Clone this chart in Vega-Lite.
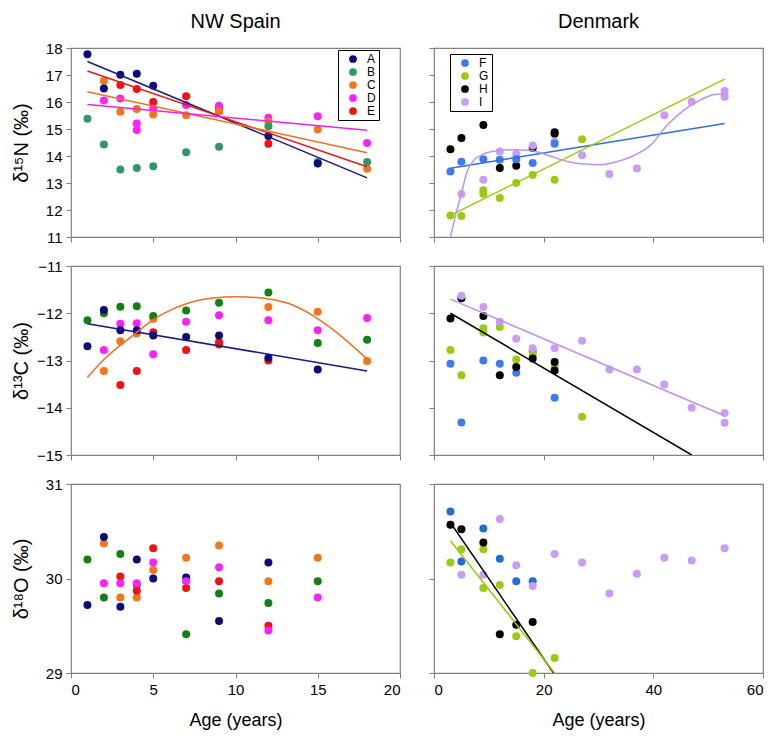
{
"$schema": "https://vega.github.io/schema/vega-lite/v6.json",
"background": "white",
"padding": {"left": 10, "top": 10, "right": 5, "bottom": 5},
"config": {
  "font": "Liberation Sans",
  "view": {"stroke": "#808080", "strokeWidth": 1.2},
  "axis": {"grid": false, "domain": false, "tickColor": "#808080", "tickSize": 5, "tickWidth": 1, "labelFontSize": 15, "labelColor": "#000", "labelPadding": 4, "titleFontSize": 18, "titleFontWeight": "normal", "titleColor": "#000", "format": "d"},
  "legend": {"orient": "none", "title": null, "strokeColor": "#000", "fillColor": "#fff", "padding": 3, "labelFontSize": 12, "symbolType": "circle", "symbolSize": 60, "rowPadding": 1, "labelOffset": 8, "symbolOffset": 6, "symbolStrokeWidth": 0, "labelColor": "#000"},
  "title": {"fontSize": 20, "fontWeight": "normal", "frame": "group", "anchor": "middle", "offset": 9, "color": "#000"}
},
"datasets": {
  "pts": [
    {"p":"a","s":"E","age":3,"v":16.63},{"p":"a","s":"E","age":4,"v":16.48},{"p":"a","s":"E","age":5,"v":16.0},{"p":"a","s":"E","age":7,"v":16.21},{"p":"a","s":"E","age":9,"v":15.76},{"p":"a","s":"E","age":9,"v":15.66},{"p":"a","s":"E","age":12,"v":14.45},
    {"p":"a","s":"D","age":2,"v":16.06},{"p":"a","s":"D","age":3,"v":16.13},{"p":"a","s":"D","age":4,"v":15.2},{"p":"a","s":"D","age":4,"v":14.96},{"p":"a","s":"D","age":5,"v":15.76},{"p":"a","s":"D","age":7,"v":15.89},{"p":"a","s":"D","age":9,"v":15.86},{"p":"a","s":"D","age":12,"v":15.42},{"p":"a","s":"D","age":15,"v":15.47},{"p":"a","s":"D","age":18,"v":14.48},
    {"p":"a","s":"C","age":2,"v":16.78},{"p":"a","s":"C","age":3,"v":15.64},{"p":"a","s":"C","age":4,"v":15.74},{"p":"a","s":"C","age":5,"v":15.54},{"p":"a","s":"C","age":7,"v":15.51},{"p":"a","s":"C","age":9,"v":15.65},{"p":"a","s":"C","age":12,"v":15.28},{"p":"a","s":"C","age":15,"v":14.98},{"p":"a","s":"C","age":18,"v":13.53},
    {"p":"a","s":"B","age":1,"v":15.38},{"p":"a","s":"B","age":2,"v":14.43},{"p":"a","s":"B","age":3,"v":13.5},{"p":"a","s":"B","age":4,"v":13.56},{"p":"a","s":"B","age":5,"v":13.62},{"p":"a","s":"B","age":7,"v":14.14},{"p":"a","s":"B","age":9,"v":14.34},{"p":"a","s":"B","age":12,"v":15.1},{"p":"a","s":"B","age":15,"v":13.78},{"p":"a","s":"B","age":18,"v":13.78},
    {"p":"a","s":"A","age":1,"v":17.77},{"p":"a","s":"A","age":2,"v":16.5},{"p":"a","s":"A","age":3,"v":17.01},{"p":"a","s":"A","age":4,"v":17.05},{"p":"a","s":"A","age":5,"v":16.6},{"p":"a","s":"A","age":12,"v":14.74},{"p":"a","s":"A","age":15,"v":13.72},

    {"p":"b","s":"H","age":3,"v":14.25},{"p":"b","s":"H","age":5,"v":14.67},{"p":"b","s":"H","age":9,"v":15.15},{"p":"b","s":"H","age":12,"v":13.56},{"p":"b","s":"H","age":15,"v":13.64},{"p":"b","s":"H","age":18,"v":14.3},{"p":"b","s":"H","age":22,"v":14.88},{"p":"b","s":"H","age":22,"v":14.82},
    {"p":"b","s":"G","age":3,"v":11.8},{"p":"b","s":"G","age":5,"v":11.78},{"p":"b","s":"G","age":9,"v":12.73},{"p":"b","s":"G","age":9,"v":12.6},{"p":"b","s":"G","age":12,"v":12.44},{"p":"b","s":"G","age":15,"v":13.0},{"p":"b","s":"G","age":18,"v":13.3},{"p":"b","s":"G","age":22,"v":13.12},{"p":"b","s":"G","age":27,"v":14.62},
    {"p":"b","s":"I","age":5,"v":12.59},{"p":"b","s":"I","age":9,"v":13.12},{"p":"b","s":"I","age":12,"v":14.17},{"p":"b","s":"I","age":15,"v":14.07},{"p":"b","s":"I","age":18,"v":14.39},{"p":"b","s":"I","age":22,"v":14.54},{"p":"b","s":"I","age":27,"v":14.03},{"p":"b","s":"I","age":32,"v":13.33},{"p":"b","s":"I","age":37,"v":13.54},{"p":"b","s":"I","age":42,"v":15.51},{"p":"b","s":"I","age":47,"v":16.01},{"p":"b","s":"I","age":53,"v":16.41},{"p":"b","s":"I","age":53,"v":16.19},
    {"p":"b","s":"F","age":3,"v":13.43},{"p":"b","s":"F","age":5,"v":13.79},{"p":"b","s":"F","age":9,"v":13.88},{"p":"b","s":"F","age":12,"v":13.86},{"p":"b","s":"F","age":15,"v":13.88},{"p":"b","s":"F","age":18,"v":13.74},{"p":"b","s":"F","age":22,"v":14.45},

    {"p":"c","s":"E","age":3,"v":-13.52},{"p":"c","s":"E","age":4,"v":-13.22},{"p":"c","s":"E","age":5,"v":-12.4},{"p":"c","s":"E","age":7,"v":-12.78},{"p":"c","s":"E","age":9,"v":-12.61},{"p":"c","s":"E","age":9,"v":-12.66},{"p":"c","s":"E","age":12,"v":-13.0},
    {"p":"c","s":"D","age":2,"v":-12.78},{"p":"c","s":"D","age":3,"v":-12.22},{"p":"c","s":"D","age":4,"v":-12.21},{"p":"c","s":"D","age":5,"v":-12.87},{"p":"c","s":"D","age":7,"v":-12.18},{"p":"c","s":"D","age":9,"v":-12.04},{"p":"c","s":"D","age":12,"v":-12.15},{"p":"c","s":"D","age":15,"v":-12.36},{"p":"c","s":"D","age":18,"v":-12.1},
    {"p":"c","s":"C","age":2,"v":-13.22},{"p":"c","s":"C","age":3,"v":-12.59},{"p":"c","s":"C","age":4,"v":-12.43},{"p":"c","s":"C","age":5,"v":-12.12},{"p":"c","s":"C","age":12,"v":-11.87},{"p":"c","s":"C","age":15,"v":-11.97},{"p":"c","s":"C","age":18,"v":-13.01},
    {"p":"c","s":"B","age":1,"v":-12.15},{"p":"c","s":"B","age":2,"v":-12.0},{"p":"c","s":"B","age":3,"v":-11.86},{"p":"c","s":"B","age":4,"v":-11.85},{"p":"c","s":"B","age":5,"v":-12.06},{"p":"c","s":"B","age":7,"v":-11.94},{"p":"c","s":"B","age":9,"v":-11.78},{"p":"c","s":"B","age":12,"v":-11.56},{"p":"c","s":"B","age":15,"v":-12.63},{"p":"c","s":"B","age":18,"v":-12.56},
    {"p":"c","s":"A","age":1,"v":-12.7},{"p":"c","s":"A","age":2,"v":-11.93},{"p":"c","s":"A","age":3,"v":-12.36},{"p":"c","s":"A","age":4,"v":-12.36},{"p":"c","s":"A","age":5,"v":-12.47},{"p":"c","s":"A","age":7,"v":-12.5},{"p":"c","s":"A","age":9,"v":-12.47},{"p":"c","s":"A","age":12,"v":-12.94},{"p":"c","s":"A","age":15,"v":-13.19},

    {"p":"d","s":"F","age":3,"v":-13.07},{"p":"d","s":"F","age":5,"v":-14.31},{"p":"d","s":"F","age":9,"v":-13.0},{"p":"d","s":"F","age":12,"v":-13.07},{"p":"d","s":"F","age":15,"v":-13.26},{"p":"d","s":"F","age":18,"v":-12.81},{"p":"d","s":"F","age":22,"v":-13.79},
    {"p":"d","s":"G","age":3,"v":-12.78},{"p":"d","s":"G","age":5,"v":-13.31},{"p":"d","s":"G","age":9,"v":-12.32},{"p":"d","s":"G","age":9,"v":-12.41},{"p":"d","s":"G","age":12,"v":-12.29},{"p":"d","s":"G","age":15,"v":-12.98},{"p":"d","s":"G","age":18,"v":-12.88},{"p":"d","s":"G","age":22,"v":-13.14},{"p":"d","s":"G","age":27,"v":-14.19},
    {"p":"d","s":"H","age":3,"v":-12.11},{"p":"d","s":"H","age":5,"v":-11.68},{"p":"d","s":"H","age":9,"v":-12.06},{"p":"d","s":"H","age":12,"v":-13.31},{"p":"d","s":"H","age":15,"v":-13.14},{"p":"d","s":"H","age":18,"v":-12.96},{"p":"d","s":"H","age":22,"v":-13.03},{"p":"d","s":"H","age":22,"v":-13.21},
    {"p":"d","s":"I","age":5,"v":-11.63},{"p":"d","s":"I","age":9,"v":-11.87},{"p":"d","s":"I","age":12,"v":-12.18},{"p":"d","s":"I","age":15,"v":-12.54},{"p":"d","s":"I","age":18,"v":-12.74},{"p":"d","s":"I","age":22,"v":-12.74},{"p":"d","s":"I","age":27,"v":-12.58},{"p":"d","s":"I","age":32,"v":-13.19},{"p":"d","s":"I","age":37,"v":-13.19},{"p":"d","s":"I","age":42,"v":-13.51},{"p":"d","s":"I","age":47,"v":-14.0},{"p":"d","s":"I","age":53,"v":-14.11},{"p":"d","s":"I","age":53,"v":-14.32},

    {"p":"e","s":"B","age":1,"v":30.2},{"p":"e","s":"B","age":2,"v":29.8},{"p":"e","s":"B","age":3,"v":30.26},{"p":"e","s":"B","age":4,"v":29.93},{"p":"e","s":"B","age":7,"v":29.41},{"p":"e","s":"B","age":9,"v":29.84},{"p":"e","s":"B","age":12,"v":29.74},{"p":"e","s":"B","age":15,"v":29.97},
    {"p":"e","s":"C","age":2,"v":30.37},{"p":"e","s":"C","age":3,"v":29.8},{"p":"e","s":"C","age":4,"v":29.8},{"p":"e","s":"C","age":5,"v":30.09},{"p":"e","s":"C","age":7,"v":30.22},{"p":"e","s":"C","age":9,"v":30.35},{"p":"e","s":"C","age":12,"v":29.97},{"p":"e","s":"C","age":15,"v":30.22},
    {"p":"e","s":"A","age":1,"v":29.72},{"p":"e","s":"A","age":2,"v":30.44},{"p":"e","s":"A","age":3,"v":29.7},{"p":"e","s":"A","age":4,"v":30.2},{"p":"e","s":"A","age":5,"v":30.0},{"p":"e","s":"A","age":7,"v":30.01},{"p":"e","s":"A","age":9,"v":29.55},{"p":"e","s":"A","age":12,"v":30.17},
    {"p":"e","s":"E","age":3,"v":30.02},{"p":"e","s":"E","age":4,"v":29.87},{"p":"e","s":"E","age":5,"v":30.32},{"p":"e","s":"E","age":7,"v":29.9},{"p":"e","s":"E","age":9,"v":29.97},{"p":"e","s":"E","age":12,"v":29.5},
    {"p":"e","s":"D","age":2,"v":29.95},{"p":"e","s":"D","age":3,"v":29.95},{"p":"e","s":"D","age":4,"v":29.95},{"p":"e","s":"D","age":5,"v":30.17},{"p":"e","s":"D","age":7,"v":29.97},{"p":"e","s":"D","age":9,"v":30.12},{"p":"e","s":"D","age":12,"v":29.45},{"p":"e","s":"D","age":15,"v":29.8},

    {"p":"f","s":"F","age":3,"v":30.71},{"p":"f","s":"F","age":5,"v":30.18},{"p":"f","s":"F","age":9,"v":30.53},{"p":"f","s":"F","age":12,"v":30.21},{"p":"f","s":"F","age":15,"v":29.97},{"p":"f","s":"F","age":18,"v":29.97},
    {"p":"f","s":"G","age":3,"v":30.17},{"p":"f","s":"G","age":5,"v":30.31},{"p":"f","s":"G","age":9,"v":30.31},{"p":"f","s":"G","age":9,"v":29.9},{"p":"f","s":"G","age":12,"v":29.93},{"p":"f","s":"G","age":15,"v":29.39},{"p":"f","s":"G","age":18,"v":29.0},{"p":"f","s":"G","age":22,"v":29.16},
    {"p":"f","s":"H","age":3,"v":30.57},{"p":"f","s":"H","age":5,"v":30.52},{"p":"f","s":"H","age":9,"v":30.38},{"p":"f","s":"H","age":12,"v":29.41},{"p":"f","s":"H","age":15,"v":29.51},{"p":"f","s":"H","age":18,"v":29.54},
    {"p":"f","s":"I","age":5,"v":30.04},{"p":"f","s":"I","age":9,"v":30.04},{"p":"f","s":"I","age":12,"v":30.63},{"p":"f","s":"I","age":15,"v":30.14},{"p":"f","s":"I","age":18,"v":29.92},{"p":"f","s":"I","age":22,"v":30.26},{"p":"f","s":"I","age":27,"v":30.17},{"p":"f","s":"I","age":32,"v":29.84},{"p":"f","s":"I","age":37,"v":30.05},{"p":"f","s":"I","age":42,"v":30.22},{"p":"f","s":"I","age":47,"v":30.19},{"p":"f","s":"I","age":53,"v":30.32}
  ],
  "fits": [
    {"p":"a","s":"A","age":1,"v":17.5},{"p":"a","s":"A","age":18,"v":13.19},
    {"p":"a","s":"E","age":1,"v":17.15},{"p":"a","s":"E","age":18,"v":13.6},
    {"p":"a","s":"C","age":1,"v":16.38},{"p":"a","s":"C","age":18,"v":14.12},
    {"p":"a","s":"D","age":1,"v":15.91},{"p":"a","s":"D","age":18,"v":14.95},
    {"p":"b","s":"F","age":3,"v":13.55},{"p":"b","s":"F","age":53,"v":15.2},
    {"p":"b","s":"G","age":3,"v":11.8},{"p":"b","s":"G","age":53,"v":16.85},
    {"p":"b","s":"I","age":3,"v":11.0},{"p":"b","s":"I","age":3.65,"v":11.57},{"p":"b","s":"I","age":4.87,"v":12.5},{"p":"b","s":"I","age":6.08,"v":13.45},{"p":"b","s":"I","age":7.3,"v":13.84},{"p":"b","s":"I","age":9.1,"v":14.08},{"p":"b","s":"I","age":11.5,"v":14.19},{"p":"b","s":"I","age":14.6,"v":14.23},{"p":"b","s":"I","age":17.6,"v":14.2},{"p":"b","s":"I","age":21.3,"v":13.99},{"p":"b","s":"I","age":24.3,"v":13.8},{"p":"b","s":"I","age":27.4,"v":13.7},{"p":"b","s":"I","age":30.4,"v":13.68},{"p":"b","s":"I","age":33.5,"v":13.8},{"p":"b","s":"I","age":36.5,"v":14.02},{"p":"b","s":"I","age":39.6,"v":14.42},{"p":"b","s":"I","age":42.6,"v":15.16},{"p":"b","s":"I","age":45.7,"v":15.72},{"p":"b","s":"I","age":48.7,"v":16.09},{"p":"b","s":"I","age":51.1,"v":16.28},{"p":"b","s":"I","age":53,"v":16.3},
    {"p":"c","s":"A","age":1,"v":-12.22},{"p":"c","s":"A","age":18,"v":-13.22},
    {"p":"c","s":"C","age":1,"v":-13.36},{"p":"c","s":"C","age":2,"v":-12.98},{"p":"c","s":"C","age":3.95,"v":-12.42},{"p":"c","s":"C","age":5.07,"v":-12.12},{"p":"c","s":"C","age":6.08,"v":-11.93},{"p":"c","s":"C","age":7.1,"v":-11.79},{"p":"c","s":"C","age":8.5,"v":-11.68},{"p":"c","s":"C","age":10.1,"v":-11.65},{"p":"c","s":"C","age":11.75,"v":-11.68},{"p":"c","s":"C","age":13.2,"v":-11.79},{"p":"c","s":"C","age":14.8,"v":-12.07},{"p":"c","s":"C","age":16.2,"v":-12.42},{"p":"c","s":"C","age":18,"v":-12.97},
    {"p":"d","s":"I","age":3,"v":-11.7},{"p":"d","s":"I","age":53,"v":-14.17},
    {"p":"d","s":"H","age":3,"v":-12.0},{"p":"d","s":"H","age":47,"v":-15.0},
    {"p":"f","s":"H","age":3,"v":30.59},{"p":"f","s":"H","age":21.8,"v":29.0},
    {"p":"f","s":"G","age":3,"v":30.4},{"p":"f","s":"G","age":22,"v":29.0}
  ]
},
"spacing": 25,
"resolve": {"scale": {"color": "independent", "stroke": "independent", "x": "independent", "y": "independent"}, "legend": {"color": "independent", "stroke": "independent"}},
"hconcat": [
 {
  "spacing": 29,
  "bounds": "flush",
  "resolve": {"scale": {"color": "independent", "stroke": "independent", "x": "independent", "y": "independent"}, "legend": {"color": "independent", "stroke": "independent"}},
  "vconcat": [
   {
    "width": 329, "height": 189,
    "title": {"text": "NW Spain"},
    "encoding": {
      "x": {"field": "age", "type": "quantitative", "scale": {"domain": [0, 20]}, "axis": {"values": [0,5,10,15,20], "labels": false, "title": null}},
      "y": {"field": "v", "type": "quantitative", "scale": {"domain": [11, 18]}, "axis": {"values": [11,12,13,14,15,16,17,18], "title": "δ¹⁵N (‰)", "titleFontSize": 20, "titleX": -40}}
    },
    "layer": [
      {"data": {"name": "pts"}, "transform": [{"filter": "datum.p == 'a'"}], "mark": {"type": "circle", "size": 64, "opacity": 1},
       "encoding": {"color": {"field": "s", "type": "nominal", "scale": {"domain": ["A","B","C","D","E"], "range": ["#0b0b7d","#2f9966","#f5761a","#ff1fff","#f51010"]}, "legend": {"legendX": 267, "legendY": 2}}}},
      {"data": {"name": "fits"}, "transform": [{"filter": "datum.p == 'a'"}], "mark": {"type": "line", "strokeWidth": 1.5, "clip": true},
       "encoding": {"stroke": {"field": "s", "type": "nominal", "scale": {"domain": ["A","C","D","E"], "range": ["#1a1a80","#f07020","#ee22ee","#e81818"]}, "legend": null}}},
      {"data": {"values": [{}]}, "mark": {"type": "text", "fontSize": 26, "align": "center", "baseline": "middle", "color": "#000"},
       "encoding": {"x": {"datum": 19.2, "type": "quantitative"}, "y": {"datum": 11.75, "type": "quantitative"}, "text": {"value": "a"}}}
    ]
   },
   {
    "width": 329, "height": 189,
    "encoding": {
      "x": {"field": "age", "type": "quantitative", "scale": {"domain": [0, 20]}, "axis": {"values": [0,5,10,15,20], "labels": false, "title": null}},
      "y": {"field": "v", "type": "quantitative", "scale": {"domain": [-15, -11]}, "axis": {"values": [-15,-14,-13,-12,-11], "title": "δ¹³C (‰)", "titleFontSize": 20, "titleX": -40}}
    },
    "layer": [
      {"data": {"name": "pts"}, "transform": [{"filter": "datum.p == 'c'"}], "mark": {"type": "circle", "size": 64, "opacity": 1},
       "encoding": {"color": {"field": "s", "type": "nominal", "scale": {"domain": ["A","B","C","D","E"], "range": ["#0b0b7d","#138013","#f5761a","#ff1fff","#f51010"]}, "legend": null}}},
      {"data": {"name": "fits"}, "transform": [{"filter": "datum.p == 'c'"}], "mark": {"type": "line", "strokeWidth": 1.5, "clip": true, "interpolate": "monotone"},
       "encoding": {"stroke": {"field": "s", "type": "nominal", "scale": {"domain": ["A","C"], "range": ["#1a1a80","#f07020"]}, "legend": null}}},
      {"data": {"values": [{}]}, "mark": {"type": "text", "fontSize": 26, "align": "center", "baseline": "middle", "color": "#000"},
       "encoding": {"x": {"datum": 18.9, "type": "quantitative"}, "y": {"datum": -14.5, "type": "quantitative"}, "text": {"value": "c"}}}
    ]
   },
   {
    "width": 329, "height": 189,
    "encoding": {
      "x": {"field": "age", "type": "quantitative", "scale": {"domain": [0, 20]}, "axis": {"values": [0,5,10,15,20], "title": "Age (years)", "titlePadding": 14}},
      "y": {"field": "v", "type": "quantitative", "scale": {"domain": [29, 31]}, "axis": {"values": [29,30,31], "title": "δ¹⁸O (‰)", "titleFontSize": 20, "titleX": -40}}
    },
    "layer": [
      {"data": {"name": "pts"}, "transform": [{"filter": "datum.p == 'e'"}], "mark": {"type": "circle", "size": 64, "opacity": 1},
       "encoding": {"color": {"field": "s", "type": "nominal", "scale": {"domain": ["A","B","C","D","E"], "range": ["#0b0b7d","#138013","#f5761a","#ff1fff","#f51010"]}, "legend": null}}},
      {"data": {"values": [{}]}, "mark": {"type": "text", "fontSize": 26, "align": "center", "baseline": "middle", "color": "#000"},
       "encoding": {"x": {"datum": 18.9, "type": "quantitative"}, "y": {"datum": 29.22, "type": "quantitative"}, "text": {"value": "e"}}}
    ]
   }
  ]
 },
 {
  "spacing": 29,
  "bounds": "flush",
  "resolve": {"scale": {"color": "independent", "stroke": "independent", "x": "independent", "y": "independent"}, "legend": {"color": "independent", "stroke": "independent"}},
  "vconcat": [
   {
    "width": 329, "height": 189,
    "title": {"text": "Denmark", "offset": 16},
    "encoding": {
      "x": {"field": "age", "type": "quantitative", "scale": {"domain": [0, 60]}, "axis": {"values": [0,20,40,60], "labels": false, "title": null}},
      "y": {"field": "v", "type": "quantitative", "scale": {"domain": [11, 18]}, "axis": {"values": [11,12,13,14,15,16,17,18], "labels": false, "title": null}}
    },
    "layer": [
      {"data": {"name": "pts"}, "transform": [{"filter": "datum.p == 'b'"}], "mark": {"type": "circle", "size": 64, "opacity": 1},
       "encoding": {"color": {"field": "s", "type": "nominal", "scale": {"domain": ["F","G","H","I"], "range": ["#3c7cf2","#99cc11","#000000","#c99cf5"]}, "legend": {"legendX": 16, "legendY": 6}}}},
      {"data": {"name": "fits"}, "transform": [{"filter": "datum.p == 'b'"}], "mark": {"type": "line", "strokeWidth": 1.5, "clip": true, "interpolate": "monotone"},
       "encoding": {"stroke": {"field": "s", "type": "nominal", "scale": {"domain": ["F","G","I"], "range": ["#2f6ee0","#99cc00","#c090f0"]}, "legend": null}}},
      {"data": {"values": [{}]}, "mark": {"type": "text", "fontSize": 26, "align": "center", "baseline": "middle", "color": "#000"},
       "encoding": {"x": {"datum": 55.6, "type": "quantitative"}, "y": {"datum": 11.8, "type": "quantitative"}, "text": {"value": "b"}}}
    ]
   },
   {
    "width": 329, "height": 189,
    "encoding": {
      "x": {"field": "age", "type": "quantitative", "scale": {"domain": [0, 60]}, "axis": {"values": [0,20,40,60], "labels": false, "title": null}},
      "y": {"field": "v", "type": "quantitative", "scale": {"domain": [-15, -11]}, "axis": {"values": [-15,-14,-13,-12,-11], "labels": false, "title": null}}
    },
    "layer": [
      {"data": {"name": "pts"}, "transform": [{"filter": "datum.p == 'd'"}], "mark": {"type": "circle", "size": 64, "opacity": 1},
       "encoding": {"color": {"field": "s", "type": "nominal", "scale": {"domain": ["F","G","H","I"], "range": ["#3c7cf2","#99cc11","#000000","#c99cf5"]}, "legend": null}}},
      {"data": {"name": "fits"}, "transform": [{"filter": "datum.p == 'd'"}], "mark": {"type": "line", "strokeWidth": 1.5, "clip": true},
       "encoding": {"stroke": {"field": "s", "type": "nominal", "scale": {"domain": ["H","I"], "range": ["#000000","#c090f0"]}, "legend": null}}},
      {"data": {"values": [{}]}, "mark": {"type": "text", "fontSize": 26, "align": "center", "baseline": "middle", "color": "#000"},
       "encoding": {"x": {"datum": 56, "type": "quantitative"}, "y": {"datum": -14.49, "type": "quantitative"}, "text": {"value": "d"}}}
    ]
   },
   {
    "width": 329, "height": 189,
    "encoding": {
      "x": {"field": "age", "type": "quantitative", "scale": {"domain": [0, 60]}, "axis": {"values": [0,20,40,60], "title": "Age (years)", "titlePadding": 14}},
      "y": {"field": "v", "type": "quantitative", "scale": {"domain": [29, 31]}, "axis": {"values": [29,30,31], "labels": false, "title": null}}
    },
    "layer": [
      {"data": {"name": "pts"}, "transform": [{"filter": "datum.p == 'f'"}], "mark": {"type": "circle", "size": 64, "opacity": 1},
       "encoding": {"color": {"field": "s", "type": "nominal", "scale": {"domain": ["F","G","H","I"], "range": ["#1c6fd6","#99cc11","#000000","#c99cf5"]}, "legend": null}}},
      {"data": {"name": "fits"}, "transform": [{"filter": "datum.p == 'f'"}], "mark": {"type": "line", "strokeWidth": 1.5, "clip": true},
       "encoding": {"stroke": {"field": "s", "type": "nominal", "scale": {"domain": ["G","H"], "range": ["#99cc00","#000000"]}, "legend": null}}},
      {"data": {"values": [{}]}, "mark": {"type": "text", "fontSize": 26, "align": "center", "baseline": "middle", "color": "#000"},
       "encoding": {"x": {"datum": 56.2, "type": "quantitative"}, "y": {"datum": 29.22, "type": "quantitative"}, "text": {"value": "f"}}}
    ]
   }
  ]
 }
]
}
